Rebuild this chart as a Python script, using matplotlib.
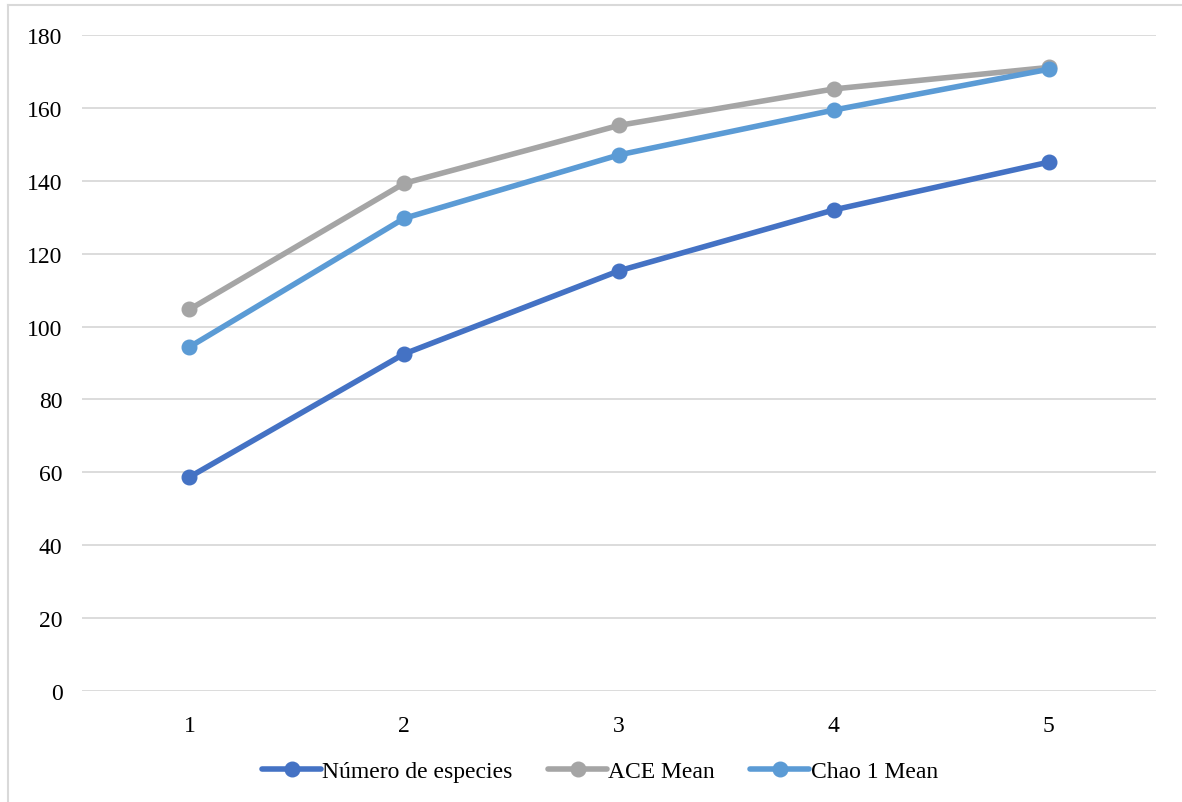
import matplotlib
matplotlib.use("Agg")
import matplotlib.pyplot as plt
from matplotlib.lines import Line2D

# data
x_labels = ["1", "2", "3", "4", "5"]
numero_especies = [58.7, 92.5, 115.3, 132.0, 145.1]
ace_mean = [104.7, 139.3, 155.2, 165.2, 171.1]
chao1_mean = [94.4, 129.7, 147.1, 159.4, 170.6]

plt.rcParams["font.family"] = ["Liberation Serif", "DejaVu Serif"]

fig = plt.figure(figsize=(11.82, 8.03), dpi=100)
ax = fig.add_axes([82 / 1182, 111 / 803, (1156 - 82) / 1182, (692 - 36) / 803])

xs = list(range(1, len(x_labels) + 1))
series = [
    ("Número de especies", numero_especies, "#4472C4"),
    ("ACE Mean", ace_mean, "#A5A5A5"),
    ("Chao 1 Mean", chao1_mean, "#5B9BD5"),
]
for name, vals, color in series:
    ax.plot(xs, vals, color=color, lw=4, marker="o", ms=10.5, label=name,
            solid_capstyle="round")

ax.set_xlim(0.5, 5.5)
ax.set_ylim(0, 180)
ax.set_yticks(range(0, 181, 20))
ax.set_xticks(xs)
ax.set_xticklabels(x_labels)
ax.grid(axis="y", color="#D9D9D9", lw=1.3)
ax.set_axisbelow(True)
for s in ax.spines.values():
    s.set_visible(False)
ax.tick_params(length=0, labelsize=17, colors="black")
ax.tick_params(axis="y", pad=14)
ax.tick_params(axis="x", pad=17)

leg = fig.legend(loc="center", bbox_to_anchor=(600 / 1182, 1 - 772 / 803), ncol=3,
                 frameon=False, fontsize=17, handlelength=2.5, handletextpad=0.05,
                 columnspacing=1.5)

# partial border like the original screenshot
fig.add_artist(Line2D([8 / 1182, 8 / 1182], [0, 1 - 6 / 803], transform=fig.transFigure,
                      color="#D9D9D9", lw=1.5))
fig.add_artist(Line2D([8 / 1182, 1], [1 - 6 / 803, 1 - 6 / 803], transform=fig.transFigure,
                      color="#D9D9D9", lw=1.5))

fig.savefig("out.png", dpi=100)
